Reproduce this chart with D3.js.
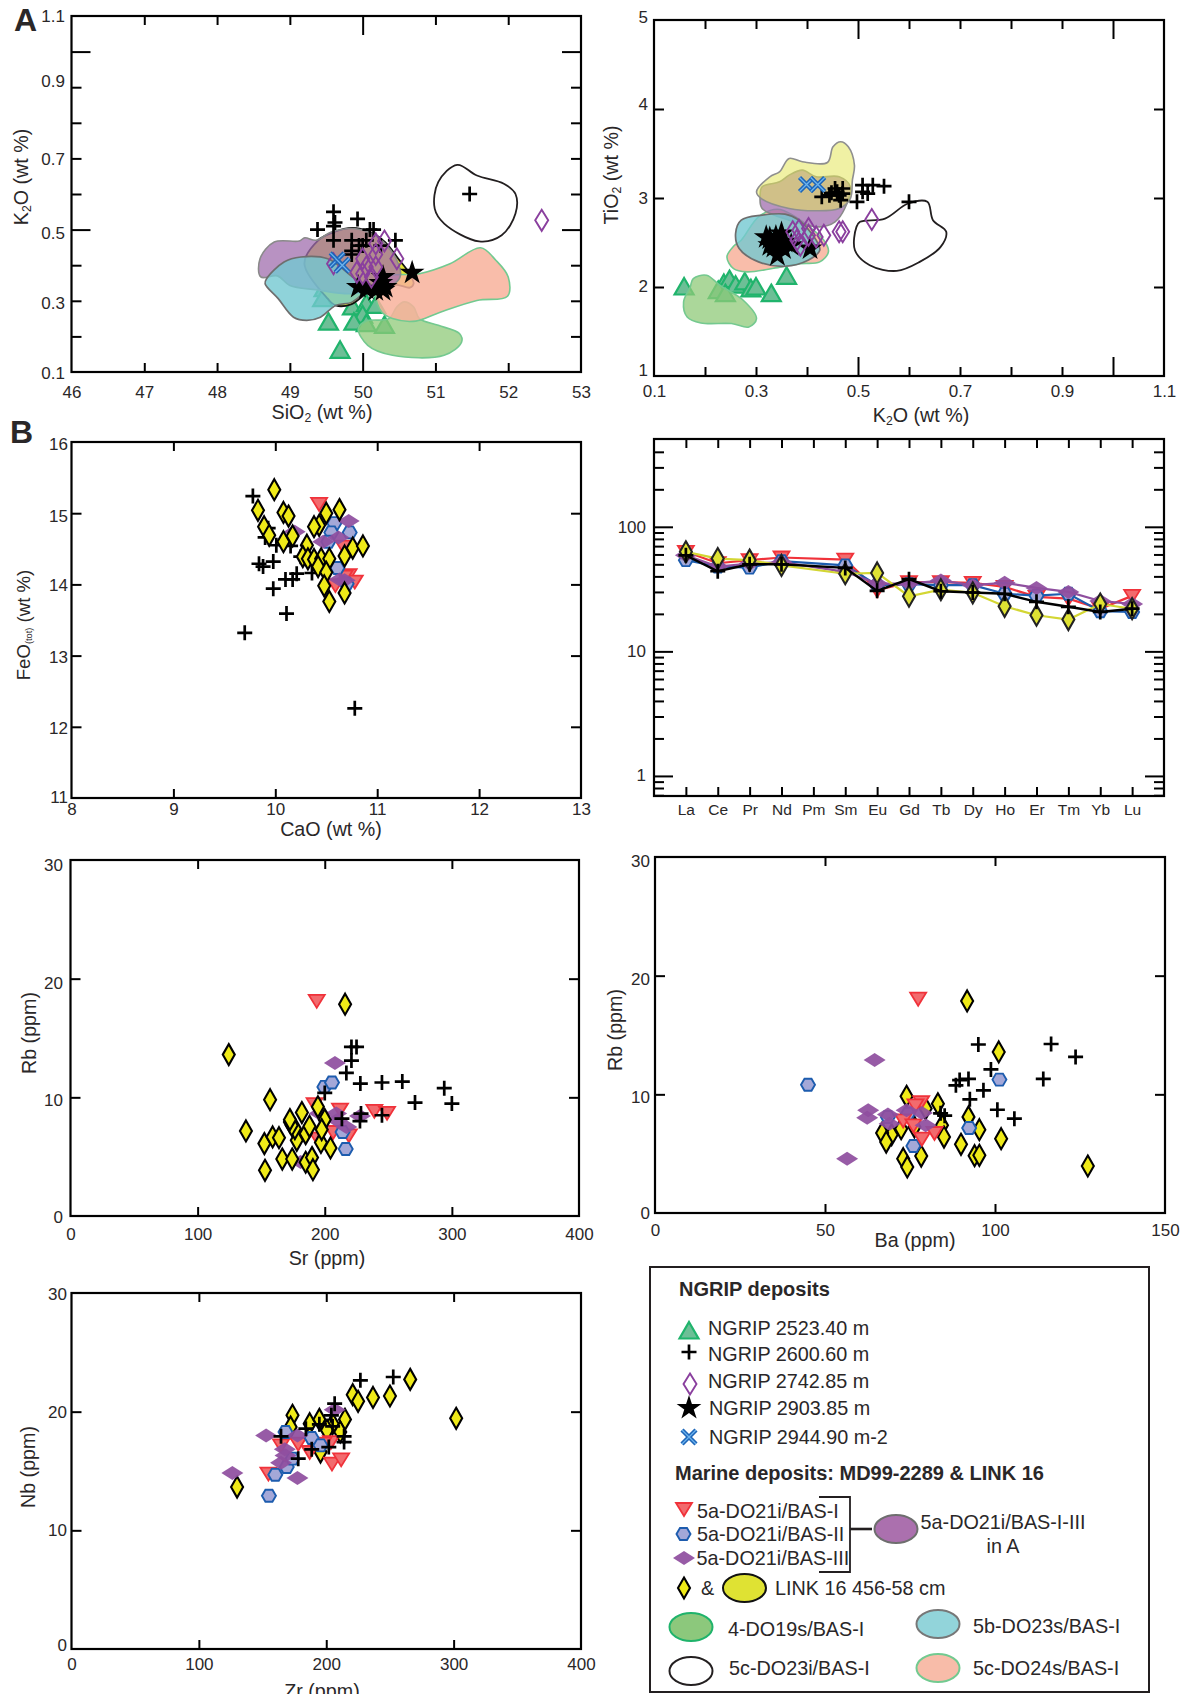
<!DOCTYPE html>
<html><head><meta charset="utf-8">
<script src="https://cdnjs.cloudflare.com/ajax/libs/d3/7.8.5/d3.min.js"></script>
<style>html,body{margin:0;padding:0;background:#fff;overflow:hidden}text{font-family:"Liberation Sans",Arial,sans-serif;fill:#2a2728}</style>
</head><body><svg id="c" width="1191" height="1694"></svg>
<script>
// ---------- Panel A1: SiO2 vs K2O ----------
const a1Tri=[[49.47,.334],[49.45,.306],[49.7,.362],[49.53,.24],[49.69,.161],[49.86,.283],[50.05,.292],[50.18,.287],[50,.26],[49.88,.24],[50.05,.236],[50.3,.231]];
const a1Plus=[[49.6,.55],[49.62,.52],[49.6,.51],[49.38,.5],[49.93,.53],[50.1,.5],[50.15,.5],[49.6,.47],[49.85,.47],[50.05,.47],[49.95,.455],[50,.455],[49.85,.44],[49.85,.43],[50.45,.47],[50.25,.455],[51.47,.6]];
const a1Open=[[52.46,.526],[50.3,.468],[50.18,.46],[50.47,.418],[49.6,.404],[50.18,.43],[50,.418],[49.92,.38],[50.05,.395],[50.18,.395],[50.12,.367],[50,.376]];
const a1Star=[[50.68,.379],[50.28,.367],[50.31,.339],[49.94,.339],[50.05,.334],[50.18,.33],[50.28,.33],[50.25,.35]];
const a1Cross=[[49.65,.415],[49.72,.4]];
const a1RegGreen=[[49.94,.222],[50.07,.175],[50.41,.147],[51.12,.147],[51.36,.184],[51.33,.208],[51.04,.231],[50.78,.25],[50.7,.283],[50.57,.297],[50.47,.283],[50.36,.25],[50.05,.243]];
const a1RegGreen2=[[49.55,.308],[49.84,.325],[49.86,.297],[49.65,.29]];
const a1RegYellow=[[49.39,.47],[49.6,.493],[49.86,.505],[50.1,.493],[50.31,.465],[50.49,.418],[50.63,.381],[50.7,.348],[50.65,.337],[50.47,.345],[50.26,.339],[50.05,.32],[49.84,.29],[49.63,.287],[49.52,.306],[49.2,.404]];
const a1RegSalmon=[[50.26,.269],[50.18,.32],[50.31,.367],[50.78,.376],[51.2,.404],[51.62,.449],[51.83,.414],[52,.367],[51.99,.313],[51.57,.301],[51.04,.266],[50.73,.243],[50.41,.25]];
const a1RegPurple=[[48.6,.367],[48.59,.418],[48.785,.465],[49.13,.468],[49.205,.477],[49.36,.47],[49.57,.493],[49.86,.503],[50.125,.489],[50.31,.46],[50.47,.414],[50.52,.372],[50.45,.35],[50.26,.339],[49.86,.32],[49.36,.331],[49,.343],[48.83,.37]];
const a1RegTeal=[[48.66,.348],[48.68,.362],[48.92,.409],[49.15,.423],[49.52,.418],[49.86,.367],[50.05,.339],[49.86,.297],[49.63,.287],[49.42,.254],[49.23,.245],[49.05,.254],[48.84,.306]];
const a1RegBlack=[[51.3,.682],[51.04,.634],[50.99,.559],[51.12,.517],[51.6,.467],[51.91,.484],[52.1,.545],[52.1,.6],[51.94,.629],[51.57,.652]];
// ---------- Panel A2: K2O vs TiO2 ----------
const a2Tri=[[.159,2],[.237,2.04],[.248,2.083],[.26,2.02],[.278,2.057],[.29,1.98],[.3,2],[.33,1.926],[.36,2.12],[.226,1.96],[.24,1.926]];
const a2Plus=[[.429,3.013],[.448,3.058],[.459,3.069],[.47,3.107],[.455,3.107],[.466,2.976],[.498,2.957],[.509,3.144],[.509,3.069],[.519,3.05],[.529,3.144],[.551,3.133],[.6,2.957],[.444,3.03],[.463,3.03],[.47,3.05]];
const a2Open=[[.527,2.758],[.47,2.62],[.463,2.62],[.433,2.582],[.418,2.563],[.403,2.657],[.384,2.638],[.372,2.62],[.387,2.47],[.403,2.582],[.38,2.526]];
const a2Star=[[.327,2.545],[.339,2.563],[.346,2.488],[.357,2.507],[.342,2.357],[.327,2.47],[.354,2.432],[.369,2.47],[.335,2.45],[.406,2.432],[.35,2.6],[.32,2.56]];
const a2Cross=[[.399,3.152],[.421,3.152]];
const a2RegGreen=[[.177,2.095],[.203,2.132],[.229,2.02],[.275,1.851],[.301,1.645],[.286,1.551],[.252,1.589],[.192,1.596],[.165,1.664],[.158,1.832],[.171,2]];
const a2RegSalmon=[[.243,2.338],[.256,2.458],[.271,2.526],[.305,2.788],[.342,2.874],[.372,2.807],[.433,2.526],[.442,2.395],[.425,2.282],[.387,2.263],[.35,2.226],[.282,2.17],[.256,2.207]];
const a2RegPurple=[[.308,3.013],[.312,3.126],[.346,3.182],[.365,3.257],[.391,3.313],[.418,3.238],[.463,3.238],[.485,3.126],[.474,2.882],[.455,2.732],[.425,2.676],[.365,2.751],[.312,2.882]];
const a2RegTeal=[[.26,2.601],[.271,2.751],[.312,2.807],[.357,2.818],[.384,2.751],[.418,2.526],[.425,2.413],[.402,2.301],[.357,2.233],[.305,2.282],[.267,2.432]];
const a2RegYellow=[[.301,3.069],[.327,3.238],[.346,3.294],[.365,3.444],[.391,3.407],[.44,3.399],[.451,3.575],[.466,3.632],[.481,3.575],[.493,3.369],[.489,3.2],[.485,2.994],[.463,2.882],[.418,2.856],[.365,2.882],[.312,2.987]];
const a2RegBlack=[[.497,2.676],[.504,2.732],[.553,2.769],[.598,2.938],[.636,2.957],[.647,2.751],[.673,2.62],[.662,2.451],[.621,2.282],[.576,2.181],[.523,2.245],[.494,2.413]];
// ---------- Panel B1: CaO vs FeO ----------
const b1Plus=[[9.78,15.24],[9.7,13.32],[10.11,13.59],[10.78,12.26],[9.84,14.29],[9.88,14.25],[9.98,14.32],[9.98,13.94],[10.1,14.07],[10.17,14.07],[10.21,14.15],[10.36,14.16],[10.01,14.55],[10.15,14.54],[9.93,14.79],[9.9,14.66],[10.25,14.39]];
const b1Red=[[10.43,15.13],[10.67,14.53],[10.72,14.13],[10.78,14.04],[10.59,13.99],[10.68,14.11]];
const b1Blue=[[10.58,14.86],[10.55,14.73],[10.73,14.73],[10.52,14.6],[10.61,14.23],[10.7,14.01]];
const b1Purple=[[10.19,14.74],[10.72,14.89],[10.62,14.66],[10.47,14.6],[10.63,14.07],[10.68,14.06]];
const b1Yellow=[[9.99,15.33],[9.83,15.04],[10.08,15.01],[10.13,14.96],[9.89,14.81],[9.94,14.69],[10.08,14.6],[10.17,14.68],[10.31,14.55],[10.27,14.39],[10.32,14.36],[10.38,14.35],[10.45,14.36],[10.53,14.36],[10.42,14.25],[10.5,14.17],[10.48,13.98],[10.53,13.76],[10.68,13.88],[10.68,14.4],[10.76,14.51],[10.86,14.54],[10.63,15.05],[10.5,15],[10.43,14.83],[10.38,14.81]];
// ---------- Panel B2: REE spider ----------
const reeNames=["La","Ce","Pr","Nd","Pm","Sm","Eu","Gd","Tb","Dy","Ho","Er","Tm","Yb","Lu"];
const reeRed=[63,51,54,56.7,null,54.6,31,36,36,35.5,32.9,27.4,26.5,22,27.9];
const reeBlue=[54,48,47,53,null,49,34,34.6,34,34,29,28,29,21,20.7];
const reePurple=[59,48,50.7,52,null,43.5,35,35,37,34,35.5,32.3,30,25.4,24];
const reeYellow=[63,55.6,54,49,null,42,42.6,27.7,31.3,29.5,23,19.5,18,24,22];
const reeBlack=[59,44,50,50,null,46.8,30.6,38,30.4,29.7,29,25,22.8,20.7,22];
// ---------- Panel B3: Sr vs Rb ----------
const b3Yellow=[[216,17.85],[124.5,13.6],[157,9.8],[138,7.17],[152.5,6.1],[159,6.66],[164,6.6],[166.6,4.8],[174.4,4.8],[153,3.85],[185,4.53],[190,4.92],[190.7,3.9],[204.5,5.73],[197,6.2],[185,6.94],[178,6.38],[176.5,7.37],[172.6,7.93],[174,7.65],[172.6,8.12],[182,8.72],[188,7.56],[194.6,9.2],[200,8.12],[197.6,7.28]];
const b3Red=[[193.7,18.13],[192,9.42],[212,8.97],[239,8.86],[249,8.69],[194.6,6.52],[206.6,7.08],[219,6.8]];
const b3Blue=[[199.7,10.88],[205.7,11.25],[214,7.08],[216.5,5.65]];
const b3Purple=[[208,12.9],[227.7,8.43],[209,8.63],[196,8.63],[217,7.5],[209.6,8.07],[181,4.55]];
const b3Plus=[[221,14.25],[225,14.25],[221,13.1],[217,12.06],[228,11.16],[245,11.25],[261,11.33],[294,10.77],[300,9.47],[271,9.56],[200,10.37],[213.5,8.2],[228.5,8.63],[227.7,8],[245,8.49]];
// ---------- Panel B4: Ba vs Rb ----------
const b4Yellow=[[91.8,17.87],[101.1,13.57],[74,9.83],[83.2,9.2],[79.6,8.8],[92.2,8.1],[84.4,7.39],[95.4,7.02],[85,6.4],[101.8,6.26],[90,5.79],[94,4.83],[95.4,4.86],[78.3,4.8],[73,4.58],[74.2,3.88],[127.3,3.96],[72.4,7.1],[69.6,6.6],[66.8,6.74],[68,5.98],[76.3,7.25]];
const b4Red=[[77.4,18.06],[78.3,9.35],[76.6,9.07],[73,7.8],[76,7.39],[78.5,6.26],[82.2,6.74]];
const b4Blue=[[45,10.81],[101.3,11.24],[92.4,7.16],[76,5.65],[74.4,8.37],[68.5,8.09]];
const b4Purple=[[64.6,12.89],[62.7,8.65],[62.4,8.03],[68.5,8.31],[69,7.53],[74,8.65],[78.5,8.43],[79.6,7.39],[56.5,4.58]];
const b4Plus=[[95.1,14.2],[116.5,14.24],[123.7,13.15],[98.8,12.1],[114.2,11.3],[92.2,11.3],[89.6,11.2],[88.5,10.76],[96.6,10.34],[92.6,9.58],[100.7,8.7],[105.7,7.95],[84,8.4],[85.2,8.2]];
// ---------- Panel B5: Zr vs Nb ----------
const b5Yellow=[[265.9,22.72],[250,21.32],[236.7,21.2],[220.8,21.43],[225,20.87],[302,19.44],[173.5,19.69],[187,18.99],[194.6,19.35],[205,18.99],[214.7,19.35],[211,18.29],[130,13.65],[195.5,16.6],[200.6,18.43],[172,18.7]];
const b5Red=[[154.6,14.78],[164.5,17.16],[178,17.3],[187,16.6],[203.6,17.44],[204.5,15.62],[211.7,15.98],[197.6,17.3]];
const b5Blue=[[155,12.92],[160,14.69],[168,18.29],[188.6,17.78],[195.5,17.16],[169,15.34],[173.5,16.04]];
const b5Purple=[[126.3,14.83],[152.8,18],[206.6,20.17],[177.4,18],[167.5,16.83],[168,16.3],[164.5,15.7],[177.4,14.41]];
const b5Plus=[[226.8,22.64],[252.6,22.92],[206.6,20.67],[204,19.69],[194.6,18.93],[184,18.57],[205,18.76],[164.5,17.92],[214,17.92],[214,17.44],[202,17.02],[188.6,16.83],[178,16.04]];

const svg=d3.select("#c");
const FS=17,TS=19.7;
// ----- marker styles -----
const star=d3.symbol(d3.symbolStar);
const M={
 tri:g=>g.append("path").attr("d","M0,-9L9.5,7.5L-9.5,7.5Z").attr("fill","#6dbf96").attr("stroke","#20b46c").attr("stroke-width",2.2).attr("stroke-linejoin","miter"),
 plus:g=>g.append("path").attr("d","M-7.5,0H7.5M0,-7.5V7.5").attr("fill","none").attr("stroke","#000").attr("stroke-width",2.7),
 open:g=>g.append("path").attr("d","M0,-10.5L6.5,0L0,10.5L-6.5,0Z").attr("fill","none").attr("stroke","#8a3f9e").attr("stroke-width",1.9),
 star:g=>g.append("path").attr("d",star.size(190)()).attr("fill","#000"),
 cross:g=>{g.append("path").attr("d","M-7,-7L7,7M-7,7L7,-7").attr("fill","none").attr("stroke","#1e66b8").attr("stroke-width",4.4);
           g.append("path").attr("d","M-7,-7L7,7M-7,7L7,-7").attr("fill","none").attr("stroke","#6db4ee").attr("stroke-width",1.3);},
 red:g=>g.append("path").attr("d","M-8,-6L8,-6L0,7Z").attr("fill","#f26b6e").attr("stroke","#f0323a").attr("stroke-width",1.8),
 blue:g=>g.append("path").attr("d","M-7,0L-3.5,-6L3.5,-6L7,0L3.5,6L-3.5,6Z").attr("fill","#a4a8d8").attr("stroke","#1d5cae").attr("stroke-width",1.9),
 purple:g=>g.append("path").attr("d","M-11,0L0,-7L11,0L0,7Z").attr("fill","#8f4f9f").attr("fill-opacity",.93),
 yellow:g=>g.append("path").attr("d","M0,-10.5L6,0L0,10.5L-6,0Z").attr("fill","#efea18").attr("stroke","#000").attr("stroke-width",2.1)
};
function marks(root,x,y,rows,kind){
  root.append("g").selectAll("g").data(rows).join("g")
    .attr("transform",d=>`translate(${x(d[0])},${y(d[1])})`).each(function(){M[kind](d3.select(this));});
}
function label(sel,xp,yp,parts,opt={}){
  const size=opt.size||TS;
  const t=sel.append("text").attr("x",xp).attr("y",yp).attr("text-anchor",opt.anchor||"middle")
    .attr("dominant-baseline","central").attr("font-size",size).attr("font-weight",opt.bold?"bold":"normal");
  if(opt.rot!=null)t.attr("transform",`rotate(${opt.rot} ${xp} ${yp})`);
  let shift=0;
  [].concat(parts).forEach(p=>{
    if(typeof p==="string"){const s=t.append("tspan").text(p);if(shift){s.attr("dy",shift);shift=0;}}
    else{const d=size*.3;t.append("tspan").attr("dy",d).attr("font-size",size*(opt.subScale||.62)).text(p.sub);shift=-d;}
  });
  return t;
}
function axes(g,x,y,c){
  const [L,R,T,B]=c.f;
  const tick=(gen,tr)=>g.append("g").attr("transform",tr).call(gen).call(a=>{a.select(".domain").remove();a.selectAll("text").remove();a.selectAll("line").attr("stroke","#000").attr("stroke-width",2);});
  const xt=[].concat(c.xMinor||[]),yt=[].concat(c.yMinor||[]);
  tick(d3.axisBottom(x).tickValues(xt).tickSize(-9),`translate(0,${B})`);
  tick(d3.axisTop(x).tickValues(xt).tickSize(-9),`translate(0,${T})`);
  tick(d3.axisLeft(y).tickValues(yt).tickSize(-10),`translate(${L},0)`);
  tick(d3.axisRight(y).tickValues(yt).tickSize(-10),`translate(${R},0)`);
  if(c.xMajor){tick(d3.axisBottom(x).tickValues(c.xMajor).tickSize(-19),`translate(0,${B})`);tick(d3.axisTop(x).tickValues(c.xMajor).tickSize(-19),`translate(0,${T})`);}
  if(c.yMajor){tick(d3.axisLeft(y).tickValues(c.yMajor).tickSize(-19),`translate(${L},0)`);tick(d3.axisRight(y).tickValues(c.yMajor).tickSize(-19),`translate(${R},0)`);}
  // labels
  const fx=c.xFmt||(d=>d),fy=c.yFmt||(d=>d);
  g.append("g").attr("transform",`translate(0,${B})`).call(d3.axisBottom(x).tickValues(c.xLab).tickFormat(fx).tickSize(0))
    .call(a=>{a.select(".domain").remove();a.attr("font-family",null).attr("font-size",null);
      a.selectAll("text").attr("font-size",c.fs||FS).attr("y",c.xLabY-B).attr("dy","0.35em").attr("fill",null);});
  g.append("g").attr("transform",`translate(${L},0)`).call(d3.axisLeft(y).tickValues(c.yLab).tickFormat(fy).tickSize(0))
    .call(a=>{a.select(".domain").remove();a.attr("font-family",null).attr("font-size",null);
      a.selectAll("text").attr("font-size",FS).attr("x",c.yLabX-L).attr("fill",null)
       .attr("dy",d=>(c.yOff&&c.yOff[d]||0)+5.8);});
}
function frame(g,c){const [L,R,T,B]=c.f;g.append("rect").attr("x",L).attr("y",T).attr("width",R-L).attr("height",B-T).attr("fill","none").attr("stroke","#000").attr("stroke-width",2.2);}
function region(g,x,y,rows,fill,op,stroke,sw){
  const ln=d3.line().x(d=>x(d[0])).y(d=>y(d[1])).curve(d3.curveCatmullRomClosed.alpha(.5));
  g.append("path").attr("d",ln(rows)).attr("fill",fill).attr("fill-opacity",op).attr("stroke",stroke).attr("stroke-width",sw).attr("stroke-linejoin","round");
}
function scales(c){
  return [d3.scaleLinear().domain(c.xd).range([c.f[0],c.f[1]]),d3.scaleLinear().domain(c.yd).range([c.f[3],c.f[2]])];
}
const GREEN=["#8fca78",.75,"#74c98f",1.6],SALMON=["#f8b19b",.85,"#72ca90",1.6],PURPLE=["#a06eae",.75,"#8a8a8a",1.6],TEAL=["#73c8d1",.8,"#6e6e6e",1.7];

// ===== A1 =====
{const c={f:[71.5,581,16,372],xd:[46,53],yd:[.1,1.1],xMinor:[47,48,49,51,52],xMajor:[50],yMinor:[.2,.3,.4,.6,.7,.8,.9],yMajor:[.5,1],
 xLab:[46,47,48,49,50,51,52,53],yLab:[.1,.3,.5,.7,.9,1.1],xLabY:392,yLabX:65,yOff:{.9:-7,.5:3,.3:2,.1:1},yFmt:d3.format(".1f")};
 const [x,y]=scales(c),g=svg.append("g");
 marks(g,x,y,a1Tri,"tri");
 region(g,x,y,a1RegGreen,...GREEN);region(g,x,y,a1RegGreen2,...GREEN);
 region(g,x,y,a1RegYellow,"#e5e635",1,"#111",1.8);
 region(g,x,y,a1RegSalmon,...SALMON);region(g,x,y,a1RegPurple,...PURPLE);region(g,x,y,a1RegTeal,...TEAL);
 region(g,x,y,a1RegBlack,"none",1,"#231f20",1.8);
 marks(g,x,y,a1Plus,"plus");marks(g,x,y,a1Star,"star");marks(g,x,y,a1Open,"open");marks(g,x,y,a1Cross,"cross");
 axes(g,x,y,c);frame(g,c);
 label(g,322,412,["SiO",{sub:"2"}," (wt %)"]);label(g,21,177,["K",{sub:"2"},"O (wt %)"],{rot:-90});
 label(g,14,20,"A",{anchor:"start",size:32,bold:true});label(g,10,432,"B",{anchor:"start",size:32,bold:true});}
// ===== A2 =====
{const c={f:[654,1164,20,376],xd:[.1,1.1],yd:[1,5],xMinor:[.2,.3,.4,.6,.7,.8,.9],xMajor:[.5,1],yMinor:[2,3,4],
 xLab:[.1,.3,.5,.7,.9,1.1],yLab:[1,2,3,4,5],xLabY:391,yLabX:648,yOff:{5:-3,4:-5,2:-1,1:-6},xFmt:d3.format(".1f")};
 const [x,y]=scales(c),g=svg.append("g");
 marks(g,x,y,a2Tri,"tri");
 region(g,x,y,a2RegGreen,...GREEN);region(g,x,y,a2RegSalmon,...SALMON);region(g,x,y,a2RegPurple,...PURPLE);
 region(g,x,y,a2RegYellow,"#e3e55a",.55,"#8f8f8f",1.6);region(g,x,y,a2RegTeal,...TEAL);
 region(g,x,y,a2RegBlack,"none",1,"#231f20",1.8);
 marks(g,x,y,a2Star,"star");marks(g,x,y,a2Plus,"plus");marks(g,x,y,a2Open,"open");marks(g,x,y,a2Cross,"cross");
 axes(g,x,y,c);frame(g,c);
 label(g,921,415,["K",{sub:"2"},"O (wt %)"]);label(g,611,175,["TiO",{sub:"2"}," (wt %)"],{rot:-90});}
// ===== B1 =====
{const c={f:[71.5,581,442,798],xd:[8,13],yd:[11,16],xMinor:[9,10,11,12],yMinor:[12,13,14,15],xLab:[8,9,10,11,12,13],yLab:[11,12,13,14,15,16],xLabY:809,yLabX:68,yOff:{16:2,15:2,13:1,12:1,11:-1}};
 const [x,y]=scales(c),g=svg.append("g");
 marks(g,x,y,b1Plus,"plus");marks(g,x,y,b1Red,"red");marks(g,x,y,b1Blue,"blue");marks(g,x,y,b1Purple,"purple");marks(g,x,y,b1Yellow,"yellow");
 axes(g,x,y,c);frame(g,c);
 label(g,331,829,"CaO (wt %)");
 label(g,23,625,["FeO",{sub:"(tot)"}," (wt %)"],{rot:-90,size:18.6,subScale:.5});}
// ===== B2 =====
{const L=654,R=1164,T=439,B=796;
 const x=d3.scaleLinear().domain([-1,15]).range([L,R]),y=d3.scaleLog().domain([.69,507]).range([B,T]),g=svg.append("g");
 const idx=reeNames.map((d,i)=>i);
 const minor=[.7,.8,.9,2,3,4,5,6,7,8,9,20,30,40,50,60,70,80,90,200,300,400];
 const c={f:[L,R,T,B],xMinor:idx,yMinor:minor,yMajor:[1,10,100],xLab:idx,yLab:[1,10,100],xLabY:810,yLabX:646,yOff:{1:-1,10:-1},xFmt:i=>reeNames[i],yFmt:d=>d,fs:15.5};
 const ln=d3.line().x(d=>x(d[0])).y(d=>y(d[1]));
 const rows=v=>v.map((d,i)=>[i,d]).filter(d=>d[1]!=null);
 [[reeRed,"#f0323a","red"],[reeBlue,"#1d5cae","blue"],[reePurple,"#8f4f9f","purple"],[reeYellow,"#d3d633","yellow"]].forEach(([v,col,k])=>{
   g.append("path").attr("d",ln(rows(v))).attr("fill","none").attr("stroke",col).attr("stroke-width",2.2);
   marks(g,x,y,rows(v),k);});
 g.selectAll("g g path").filter(function(){return d3.select(this).attr("fill")==="#efea18";}).attr("fill","#dfe233").attr("stroke","#222");
 g.append("path").attr("d",ln(rows(reeBlack))).attr("fill","none").attr("stroke","#000").attr("stroke-width",2.4);
 marks(g,x,y,rows(reeBlack),"plus");
 axes(g,x,y,c);frame(g,c);}
// ===== B3 =====
{const c={f:[70.5,579,860,1216],xd:[0,400],yd:[0,30],xMinor:[100,200,300],yMinor:[10,20],xLab:[0,100,200,300,400],yLab:[0,10,20,30],xLabY:1234,yLabX:63,yOff:{30:5,20:4,10:2,0:1}};
 const [x,y]=scales(c),g=svg.append("g");
 marks(g,x,y,b3Red,"red");marks(g,x,y,b3Blue,"blue");marks(g,x,y,b3Purple,"purple");marks(g,x,y,b3Yellow,"yellow");marks(g,x,y,b3Plus,"plus");
 axes(g,x,y,c);frame(g,c);
 label(g,327,1258,"Sr (ppm)");label(g,29,1033,"Rb (ppm)",{rot:-90});}
// ===== B4 =====
{const c={f:[655,1165,857,1213],xd:[0,150],yd:[0,30],xMinor:[50,100],yMinor:[10,20],xLab:[0,50,100,150],yLab:[0,10,20,30],xLabY:1230,yLabX:650,yOff:{30:4,20:3,10:2}};
 const [x,y]=scales(c),g=svg.append("g");
 marks(g,x,y,b4Yellow,"yellow");marks(g,x,y,b4Plus,"plus");marks(g,x,y,b4Blue,"blue");marks(g,x,y,b4Red,"red");marks(g,x,y,b4Purple,"purple");
 axes(g,x,y,c);frame(g,c);
 label(g,915,1240,"Ba (ppm)");label(g,615,1030,"Rb (ppm)",{rot:-90});}
// ===== B5 =====
{const c={f:[71.5,581,1293,1649],xd:[0,400],yd:[0,30],xMinor:[100,200,300],yMinor:[10,20],xLab:[0,100,200,300,400],yLab:[0,10,20,30],xLabY:1664,yLabX:67,yOff:{30:1,10:-1,0:-4}};
 const [x,y]=scales(c),g=svg.append("g");
 marks(g,x,y,b5Yellow,"yellow");marks(g,x,y,b5Red,"red");marks(g,x,y,b5Blue,"blue");marks(g,x,y,b5Purple,"purple");marks(g,x,y,b5Plus,"plus");
 axes(g,x,y,c);frame(g,c);
 label(g,322,1691,"Zr (ppm)");label(g,28,1467,"Nb (ppm)",{rot:-90});}
// ===== Legend =====
{const g=svg.append("g");
 g.append("rect").attr("x",650).attr("y",1267).attr("width",499).attr("height",425).attr("fill","none").attr("stroke","#231f20").attr("stroke-width",2);
 const tx=(x,y,s,o={})=>label(g,x,y,s,Object.assign({anchor:"start",size:19.8},o));
 const mk=(k,x,y)=>M[k](g.append("g").attr("transform",`translate(${x},${y})`));
 tx(679,1289,"NGRIP deposits",{bold:true,size:20});
 mk("tri",689,1331);tx(708,1328,"NGRIP 2523.40 m");
 mk("plus",689,1352);tx(708,1354,"NGRIP 2600.60 m");
 mk("open",690,1384);tx(708,1381,"NGRIP 2742.85 m");
 mk("star",689,1408);tx(709,1408,"NGRIP 2903.85 m");
 mk("cross",689,1437);tx(709,1437,"NGRIP 2944.90 m-2");
 tx(675,1473,"Marine deposits: MD99-2289 & LINK 16",{bold:true,size:20});
 mk("red",684,1509);tx(697,1511,"5a-DO21i/BAS-I");
 mk("blue",683.5,1534);tx(697,1534,"5a-DO21i/BAS-II");
 mk("purple",684,1558);tx(696.5,1558,"5a-DO21i/BAS-III");
 g.append("path").attr("d","M819,1497H850V1572H819").attr("fill","none").attr("stroke","#231f20").attr("stroke-width",1.8);
 g.append("path").attr("d","M850,1529H872").attr("stroke","#231f20").attr("stroke-width",2.6);
 const el=(cx,cy,f,s,sw=2)=>g.append("ellipse").attr("cx",cx).attr("cy",cy).attr("rx",21.5).attr("ry",14).attr("fill",f).attr("stroke",s).attr("stroke-width",sw);
 el(896,1529,"#ab70ae","#6e6e6e");
 tx(1003,1522,"5a-DO21i/BAS-I-III",{anchor:"middle"});tx(1003,1546,"in A",{anchor:"middle"});
 mk("yellow",684,1588);
 tx(701,1588,"&");el(744.5,1588,"#dfe233","#111");tx(775,1588,"LINK 16 456-58 cm");
 el(691,1627,"#8cc87c","#1fb36b");tx(728,1629,"4-DO19s/BAS-I");
 el(938,1624,"#92d4da","#777");tx(973,1626,"5b-DO23s/BAS-I");
 el(691,1671,"#fff","#231f20");tx(729,1668,"5c-DO23i/BAS-I");
 el(938,1668,"#f8bca9","#72ca90");tx(973,1668,"5c-DO24s/BAS-I");}
</script></body></html>
